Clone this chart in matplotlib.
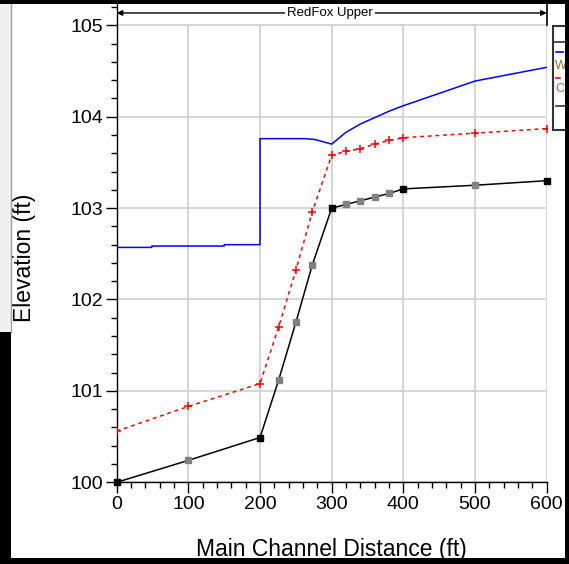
import matplotlib
matplotlib.use("Agg")
import matplotlib.pyplot as plt
from matplotlib.patches import Rectangle
from matplotlib.lines import Line2D
from matplotlib.ticker import MultipleLocator

plt.rcParams['font.family'] = ['Liberation Sans', 'DejaVu Sans']

# ---- data ----
eg_x = [0, 49, 49, 150, 150, 200, 200, 263, 277, 300, 320, 340, 360, 380, 400, 500, 600]
eg_y = [102.57, 102.57, 102.585, 102.585, 102.60, 102.60, 103.76, 103.76, 103.75, 103.70,
        103.83, 103.92, 103.99, 104.06, 104.12, 104.39, 104.54]

ws_x = [0, 100, 200, 226, 250, 273, 300, 320, 340, 360, 380, 400, 500, 600]
ws_y = [100.56, 100.83, 101.08, 101.70, 102.32, 102.96, 103.58, 103.62, 103.65, 103.70,
        103.74, 103.77, 103.82, 103.87]

gr_x = [0, 100, 200, 226, 250, 273, 300, 320, 340, 360, 380, 400, 500, 600]
gr_y = [100.0, 100.24, 100.49, 101.12, 101.75, 102.38, 103.0, 103.04, 103.08, 103.12,
        103.16, 103.21, 103.25, 103.30]
gr_main = [0, 200, 300, 400, 600]   # stations drawn with black markers

reach_label = "RedFox Upper"
legend_labels = ["W", "C"]
x_ticks = [0, 100, 200, 300, 400, 500, 600]
y_ticks = [100, 101, 102, 103, 104, 105]

W, H = 569, 564
fig = plt.figure(figsize=(W / 100, H / 100), dpi=100)
fig.patch.set_facecolor('white')

def fx(px):
    return px / W

def fy(py):
    return 1 - py / H

ax = fig.add_axes([fx(116.7), fy(482.3), fx(546.7) - fx(116.7), fy(4) - fy(482.3)])
ax.set_xlim(0, 600)
ax.set_ylim(100, 105.233)

ax.set_xticks(x_ticks)
ax.set_yticks(y_ticks)
ax.xaxis.set_minor_locator(MultipleLocator(20))
ax.yaxis.set_minor_locator(MultipleLocator(0.2))
ax.tick_params(which='major', direction='out', length=8, width=1, labelsize=14, pad=2)
ax.tick_params(which='minor', direction='out', length=4, width=1)
ax.grid(True, which='major', axis='y', color='#d0d0d0', lw=1.2)
ax.set_axisbelow(True)
for s in ['top', 'right']:
    ax.spines[s].set_visible(False)
for s in ['left', 'bottom']:
    ax.spines[s].set_linewidth(1)

# vertical grid only up to 105
for xv in x_ticks:
    ax.plot([xv, xv], [100, 105], color='#d0d0d0', lw=1.2, zorder=0.5)

ax.plot(eg_x, eg_y, color='#0000ff', lw=1.1, zorder=3)
ax.plot(ws_x, ws_y, color='#ff0000', lw=1.1, linestyle=(0, (2.5, 2.5)), marker='+',
        markersize=6, markeredgewidth=1.1, zorder=3)
ax.plot(gr_x, gr_y, color='black', lw=1.1, zorder=4)
for x, y in zip(gr_x, gr_y):
    c = 'black' if x in gr_main else '#808080'
    ax.plot([x], [y], marker='s', markersize=5, color=c, markeredgecolor=c,
            zorder=5, clip_on=False)

ax.set_xlabel("Main Channel Distance (ft)", fontsize=16.5, labelpad=18)
ax.set_ylabel("Elevation (ft)", fontsize=16.5)
ax.yaxis.set_label_coords(-0.188, 0.47)

# reach annotation
ya = 105.135
ax.annotate('', xy=(0, ya), xytext=(600, ya),
            arrowprops=dict(arrowstyle='<|-|>', color='black', lw=1,
                            mutation_scale=8, shrinkA=0, shrinkB=0),
            annotation_clip=False)
ax.text(298, ya, reach_label, fontsize=9.5, ha='center', va='center',
        bbox=dict(facecolor='white', edgecolor='none', pad=1.5), zorder=6)
ax.plot([600, 600], [105.0, 105.233], color='black', lw=1.2, clip_on=False)

# legend (clipped by window edge)
fig.add_artist(Rectangle((fx(553), fy(130)), fx(600) - fx(553), fy(26) - fy(130),
                         transform=fig.transFigure, facecolor='white',
                         edgecolor='#333333', lw=1.5, zorder=8))
fig.add_artist(Line2D([fx(553), fx(600)], [fy(42), fy(42)], color='#333333', lw=1.2,
                      transform=fig.transFigure, zorder=9))
fig.add_artist(Line2D([fx(556), fx(563)], [fy(52), fy(52)], color='#0000ff', lw=1.2,
                      transform=fig.transFigure, zorder=9))
fig.text(fx(554.5), fy(66), legend_labels[0], fontsize=9, color='#9a6a30',
         va='center', ha='left', zorder=9)
fig.add_artist(Line2D([fx(556), fx(560)], [fy(78), fy(78)], color='#ff0000', lw=1.2,
                      transform=fig.transFigure, zorder=9))
fig.text(fx(555), fy(89), legend_labels[1], fontsize=9, color='#8a7050',
         va='center', ha='left', zorder=9)
fig.add_artist(Line2D([fx(556), fx(566)], [fy(106), fy(106)], color='#333333', lw=1.2,
                      transform=fig.transFigure, zorder=9))

# window frame
fig.add_artist(Rectangle((0, fy(4)), 1, fy(0) - fy(4), transform=fig.transFigure,
                         facecolor='black', edgecolor='none', zorder=20))
fig.add_artist(Rectangle((0, 0), 1, fy(558), transform=fig.transFigure,
                         facecolor='black', edgecolor='none', zorder=20))
fig.add_artist(Rectangle((fx(565), 0), 1 - fx(565), 1, transform=fig.transFigure,
                         facecolor='black', edgecolor='none', zorder=20))
fig.add_artist(Rectangle((0, 0), fx(11), fy(332), transform=fig.transFigure,
                         facecolor='black', edgecolor='none', zorder=20))
fig.add_artist(Rectangle((0, fy(332)), fx(11), fy(4) - fy(332), transform=fig.transFigure,
                         facecolor='#f0f0f0', edgecolor='none', zorder=20))
fig.add_artist(Line2D([fx(11), fx(11)], [fy(332), fy(4)], color='#a0a0a0', lw=1,
                      transform=fig.transFigure, zorder=21))

fig.savefig("out.png", dpi=100)
